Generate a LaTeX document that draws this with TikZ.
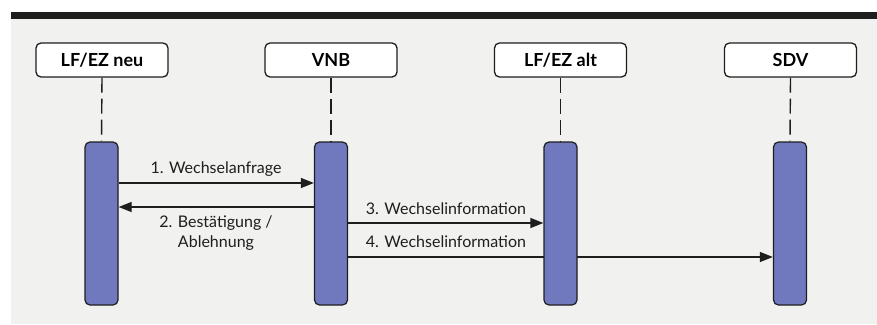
\documentclass[tikz,border=0pt]{standalone}
\usepackage{fontspec}
\setmainfont{Lato}
\usetikzlibrary{arrows.meta}
\pgfdeclarelayer{bg}
\pgfsetlayers{bg,main}
\definecolor{paper}{HTML}{F1F1F0}
\definecolor{barblue}{HTML}{7079BE}
\definecolor{ink}{HTML}{1E1E1E}
\begin{document}
\begin{tikzpicture}
  [x=1pt,y=-1pt,
   head/.style={draw=ink,line width=1.3pt,fill=white,rounded corners=5pt,
     minimum width=132pt,minimum height=34pt,inner sep=0pt,font=\fontsize{18}{20}\selectfont\bfseries},
   bar/.style={draw=ink,line width=1.2pt,fill=barblue,rounded corners=5pt,
     minimum width=33pt,minimum height=163pt,inner sep=0pt},
   life/.style={draw=ink,line width=1.4pt,dash pattern=on 15pt off 6pt},
   msg/.style={draw=ink,line width=1.2pt,-{Triangle[length=13pt,width=10pt]}},
   lbl/.style={font=\fontsize{16}{20}\selectfont,text=ink,inner sep=0pt}]
\useasboundingbox (0,0) rectangle (877,324);

\node (h1)[head] at (102,60) {LF/EZ neu};
\node (h2)[head] at (331,60) {VNB};
\node (h3)[head] at (560.5,60) {LF/EZ alt};
\node (h4)[head] at (790.5,60) {SDV};

\node (b1)[bar] at (101.5,223.5) {};
\node (b2)[bar] at (331,223.5) {};
\node (b3)[bar] at (560.5,223.5) {};
\node (b4)[bar] at (790,223.5) {};

\begin{pgfonlayer}{bg}
\fill[paper] (11,19) rectangle (877,324);
\fill[ink] (11,12) rectangle (877,19);
\foreach \i in {1,...,4}
  \draw[life] (h\i.south) -- (b\i.north);
\draw[msg] (b2.east |- 0,257) -- (b4.west |- 0,257);
\end{pgfonlayer}

\draw[msg] (b1.east |- 0,183) -- (b2.west |- 0,183);
\draw[msg] (b2.west |- 0,207) -- (b1.east |- 0,207);
\draw[msg] (b2.east |- 0,223) -- (b3.west |- 0,223);

\node (l1)[lbl] at (216,169) {1. Wechselanfrage};
\node (l2)[lbl,align=center] at (216,233) {2. Bestätigung /\\Ablehnung};
\node (l3)[lbl] at (446,209) {3. Wechselinformation};
\node (l4)[lbl] at (446,242) {4. Wechselinformation};
\end{tikzpicture}
\end{document}
